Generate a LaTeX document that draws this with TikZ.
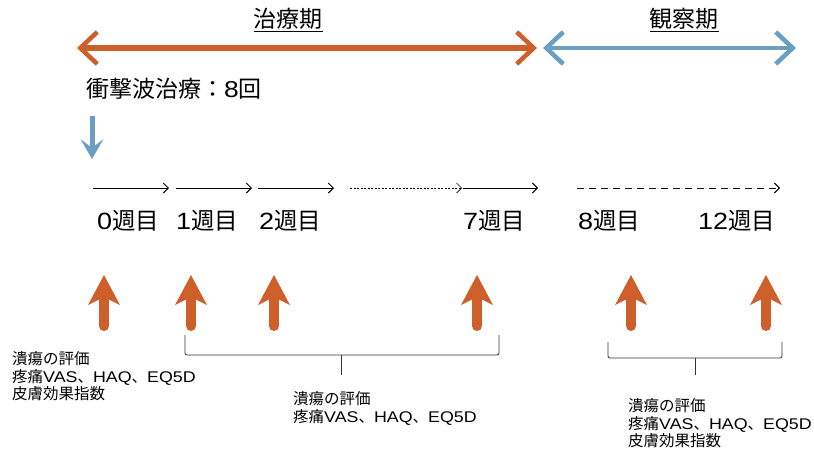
\documentclass[tikz,border=0pt]{standalone}
\usepackage{fontspec}
\setmainfont{Noto Sans CJK JP}
\newfontfamily\lt[FakeStretch=1.15]{Liberation Sans}
\usetikzlibrary{arrows.meta}
\definecolor{orng}{HTML}{CF5F2A}
\definecolor{blu}{HTML}{6C9DC2}
\begin{document}
\begin{tikzpicture}[x=1pt,y=-1pt,
  period/.style={line width=5.5pt,{Straight Barb[length=17pt,width=32pt,line width=4.5pt]}-{Straight Barb[length=17pt,width=32pt,line width=4.5pt]}},
  tl/.style={line width=0.9pt,-{Straight Barb[length=5pt,width=10pt]}},
  wk/.style={font=\fontsize{23.5}{25}\selectfont,anchor=west,inner sep=0pt},
  title/.style={font=\fontsize{23}{26}\selectfont,inner sep=1pt},
  up/.style={orng,line width=10pt,line cap=round,-{Stealth[length=30pt,width=32pt,inset=8pt,line width=0pt]}},
  note/.style={font=\fontsize{15.5}{17.8}\selectfont,align=left,anchor=north west,inner sep=0pt},
  brace/.style={line width=0.8pt,black!80}]
\useasboundingbox (0,0) rectangle (814,448);
% titles
\node[title] (t1) at (288,20) {\underline{治療期}};
\node[title] (t2) at (684,20) {\underline{観察期}};
% period arrows
\coordinate (o1) at (77,48); \coordinate (o2) at (537,48);
\coordinate (b1) at (543,48); \coordinate (b2) at (796,48);
\draw[period,orng] (o1) -- (o2);
\draw[period,blu,line width=4.5pt] (b1) -- (b2);
\node[font=\fontsize{23}{24}\selectfont,anchor=west,inner sep=0pt] (sw) at (86,89) {衝撃波治療：{\lt 8}回};
% blue down arrow
\coordinate (d1) at (92,116); \coordinate (d2) at (92,159);
\draw[blu,line width=5pt,-{Stealth[length=20pt,width=23pt,inset=9pt,line width=0pt]}] (d1) -- (d2);
% timeline
\coordinate (a0) at (93,188); \coordinate (a0e) at (169,188);
\coordinate (a1) at (176,188); \coordinate (a1e) at (252,188);
\coordinate (a2) at (258,188); \coordinate (a2e) at (334,188);
\coordinate (ad) at (350,188); \coordinate (ade) at (462,188);
\coordinate (a7) at (463,188); \coordinate (a7e) at (538,188);
\coordinate (a8) at (577,188); \coordinate (a8e) at (780,188);
\draw[tl] (a0) -- (a0e);
\draw[tl] (a1) -- (a1e);
\draw[tl] (a2) -- (a2e);
\draw[tl,dash pattern=on 2pt off 1.5pt,line width=0.7pt] (ad) -- (ade);
\draw[tl] (a7) -- (a7e);
\draw[tl,dash pattern=on 7pt off 5pt] (a8) -- (a8e);
% week labels
\node[wk] (w0) at (97,221) {{\lt 0}週目};
\node[wk] (w1) at (176,221) {{\lt 1}週目};
\node[wk] (w2) at (259,221) {{\lt 2}週目};
\node[wk] (w7) at (463,221) {{\lt 7}週目};
\node[wk] (w8) at (578,221) {{\lt 8}週目};
\node[wk] (w12) at (698,221) {{\lt 12}週目};
% up arrows
\foreach \n/\x in {u0/104,u1/191,u2/274,u7/477,u8/631,u12/766}{
  \coordinate (\n b) at (\x,326);
  \coordinate (\n t) at (\x,275);
  \draw[up] (\n b) -- (\n t);
}
% brackets
\coordinate (L1) at (185,335); \coordinate (L2) at (499,335);
\coordinate (Lm) at (341,375);
\draw[brace,rounded corners=2pt] (L1) -- (185,355) -- (499,355) -- (L2);
\draw[brace] (341,355) -- (Lm);
\coordinate (R1) at (608,342); \coordinate (R2) at (782,342);
\coordinate (Rm) at (695,375);
\draw[brace,rounded corners=2pt] (R1) -- (608,358) -- (782,358) -- (R2);
\draw[brace] (695,358) -- (Rm);
% notes
\node[note] (n1) at (12,351) {潰瘍の評価\\疼痛{\lt VAS}、{\lt HAQ}、{\lt EQ5D}\\皮膚効果指数};
\node[note] (n2) at (293,391) {潰瘍の評価\\疼痛{\lt VAS}、{\lt HAQ}、{\lt EQ5D}};
\node[note] (n3) at (628,398) {潰瘍の評価\\疼痛{\lt VAS}、{\lt HAQ}、{\lt EQ5D}\\皮膚効果指数};
\end{tikzpicture}
\end{document}
